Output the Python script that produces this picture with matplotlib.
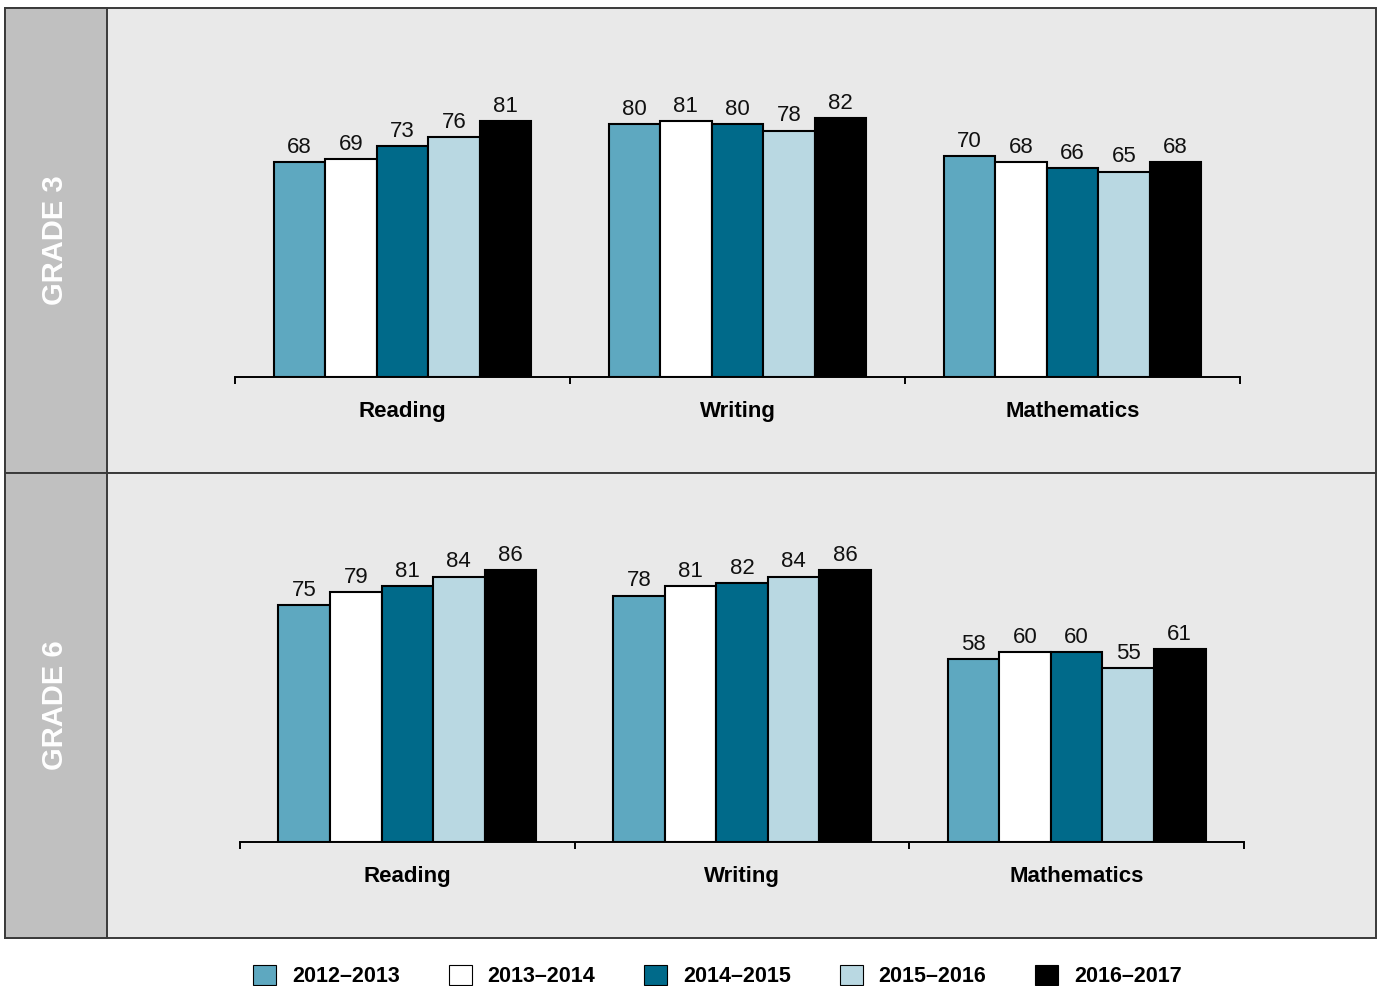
import matplotlib
matplotlib.use('Agg')
import matplotlib.pyplot as plt
from matplotlib.patches import Rectangle, Patch
import numpy as np

plt.rcParams['font.family'] = ['Liberation Sans', 'DejaVu Sans']

subjects = ['Reading', 'Writing', 'Mathematics']
years = ['2012–2013', '2013–2014', '2014–2015', '2015–2016', '2016–2017']
colors = ['#5ea8c0', '#ffffff', '#006a8a', '#b9d8e2', '#000000']

grade3 = [
    [68, 80, 70],   # 2012-2013
    [69, 81, 68],   # 2013-2014
    [73, 80, 66],   # 2014-2015
    [76, 78, 65],   # 2015-2016
    [81, 82, 68],   # 2016-2017
]
grade6 = [
    [75, 78, 58],
    [79, 81, 60],
    [81, 82, 60],
    [84, 84, 55],
    [86, 86, 61],
]

W, H = 1378, 986
fig = plt.figure(figsize=(W / 100, H / 100), dpi=100)

# background drawn in pixel coordinates
bg = fig.add_axes([0, 0, 1, 1], zorder=0)
bg.set_xlim(0, W)
bg.set_ylim(H, 0)
bg.axis('off')
edge = '#3a3a3a'
for top in (8, 473):
    bg.add_patch(Rectangle((5, top), 1371, 465, facecolor='#e9e9e9',
                           edgecolor=edge, lw=1.4))
    bg.add_patch(Rectangle((5, top), 102, 465, facecolor='#c0c0c0',
                           edgecolor=edge, lw=1.4))
bg.text(55, 240, 'GRADE 3', rotation=90, color='white', fontsize=21,
        fontweight='bold', ha='center', va='center')
bg.text(55, 705, 'GRADE 6', rotation=90, color='white', fontsize=21,
        fontweight='bold', ha='center', va='center')


def panel(x0, x1, base, data):
    ax = fig.add_axes([x0 / W, 1 - base / H, (x1 - x0) / W, 369 / H], zorder=1)
    ax.patch.set_alpha(0)
    x = np.arange(len(subjects))
    width = 0.154
    for k, vals in enumerate(data):
        bars = ax.bar(x + (k - 2) * width, vals, width, color=colors[k],
                      edgecolor='black', linewidth=1.5)
        ax.bar_label(bars, padding=3, fontsize=16, color='#111111')
    ax.set_xlim(-0.5, 2.5)
    ax.set_ylim(0, 116.8)
    ax.set_xticks(x, subjects, fontsize=16, fontweight='bold')
    ax.tick_params(axis='x', length=0, pad=17)
    ax.set_xticks([-0.5, 0.5, 1.5, 2.5], minor=True)
    ax.tick_params(axis='x', which='minor', length=5, width=1.4, direction='out')
    ax.set_yticks([])
    for s in ('top', 'right', 'left'):
        ax.spines[s].set_visible(False)
    ax.spines['bottom'].set_linewidth(1.4)
    return ax


panel(235, 1240, 377, grade3)
panel(240, 1244, 842, grade6)

handles = [Patch(facecolor=c, edgecolor='black', linewidth=0.8) for c in colors]
fig.legend(handles, years, loc='center', bbox_to_anchor=(0.5207, 0.010),
           ncol=5, frameon=False, prop={'size': 15.5, 'weight': 'bold'},
           handlelength=1.06, handleheight=1.06, handletextpad=0.74,
           columnspacing=2.27, borderpad=0)

fig.savefig('out.png', dpi=100)
